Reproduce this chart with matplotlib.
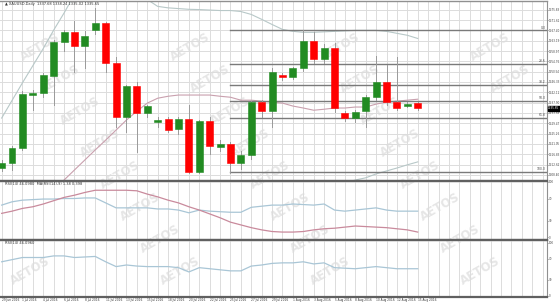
import matplotlib
matplotlib.use('Agg')
import matplotlib.pyplot as plt
from matplotlib.patches import Rectangle
import numpy as np

# ---------------- data ----------------
dates = ["29 Jun 2016", "30 Jun 2016", "1 Jul 2016", "3 Jul 2016", "4 Jul 2016", "5 Jul 2016",
         "6 Jul 2016", "7 Jul 2016", "8 Jul 2016", "10 Jul 2016", "11 Jul 2016", "12 Jul 2016",
         "13 Jul 2016", "14 Jul 2016", "15 Jul 2016", "17 Jul 2016", "18 Jul 2016", "19 Jul 2016",
         "20 Jul 2016", "21 Jul 2016", "22 Jul 2016", "24 Jul 2016", "25 Jul 2016", "26 Jul 2016",
         "27 Jul 2016", "28 Jul 2016", "29 Jul 2016", "31 Jul 2016", "1 Aug 2016", "2 Aug 2016",
         "3 Aug 2016", "4 Aug 2016", "5 Aug 2016", "7 Aug 2016", "8 Aug 2016", "9 Aug 2016",
         "10 Aug 2016", "11 Aug 2016", "12 Aug 2016", "14 Aug 2016", "15 Aug 2016"]

opens = [1311.2, 1313.3, 1319.4, 1340.95, 1341.8, 1348.7, 1362.5, 1366.6, 1360.9, 1367.4,
         1370.25, 1354.0, 1332.0, 1344.6, 1333.6, 1330.0, 1331.2, 1327.1, 1331.2, 1309.6,
         1330.4, 1319.8, 1321.0, 1313.3, 1316.5, 1338.1, 1334.4, 1349.1, 1348.3, 1351.9,
         1362.9, 1355.6, 1360.1, 1333.6, 1331.6, 1334.4, 1340.1, 1346.2, 1338.1, 1336.5, 1337.7]
closes = [1313.3, 1319.4, 1341.35, 1341.8, 1349.1, 1362.5, 1366.6, 1360.9, 1364.95, 1370.25,
          1354.0, 1332.0, 1344.6, 1333.6, 1336.5, 1330.8, 1326.7, 1331.2, 1309.6, 1330.4,
          1320.2, 1321.0, 1313.3, 1316.5, 1338.1, 1334.4, 1350.3, 1348.3, 1351.9, 1362.9,
          1355.6, 1360.1, 1335.65, 1331.6, 1334.0, 1340.1, 1346.2, 1338.1, 1335.65, 1337.3, 1335.65]
highs = [1314.5, 1320.0, 1342.5, 1343.0, 1350.0, 1363.5, 1367.5, 1371.1, 1367.0, 1376.35,
         1371.0, 1356.4, 1345.0, 1346.2, 1337.0, 1332.0, 1332.0, 1332.0, 1336.9, 1331.0,
         1332.0, 1322.5, 1322.0, 1318.0, 1338.5, 1339.0, 1351.9, 1350.0, 1352.5, 1367.4,
         1366.6, 1362.0, 1362.2, 1334.5, 1335.0, 1341.0, 1356.8, 1353.2, 1356.4, 1338.0, 1338.2]
lows = [1310.0, 1310.4, 1318.5, 1334.8, 1340.0, 1336.9, 1359.0, 1350.3, 1352.0, 1366.0,
        1350.3, 1327.9, 1325.9, 1317.7, 1332.0, 1328.0, 1325.9, 1325.0, 1309.0, 1309.2,
        1317.0, 1318.0, 1309.2, 1311.0, 1315.0, 1332.0, 1327.9, 1347.0, 1347.5, 1351.0,
        1354.0, 1354.0, 1334.0, 1330.5, 1330.0, 1327.9, 1339.0, 1337.0, 1335.0, 1336.0, 1335.0]

bb_upper = [1331.6, 1338.8, 1346.0, 1353.0, 1360.0, 1367.5, 1374.5, 1382.0, 1386.0, 1388.0,
            1389.0, 1388.0, 1386.0, 1383.0, 1380.0, 1377.2, 1376.6, 1376.3, 1376.0, 1375.9,
            1375.7, 1375.5, 1375.5, 1375.1, 1373.9, 1371.9, 1369.8, 1367.8, 1367.0, 1366.6,
            1366.6, 1366.8, 1367.0, 1367.2, 1367.4, 1367.4, 1367.4, 1367.0, 1366.2, 1365.4, 1364.1]
bb_middle = [1285.0, 1289.0, 1293.0, 1297.0, 1300.0, 1303.0, 1306.3, 1310.4, 1314.5, 1318.6,
             1322.6, 1326.7, 1330.8, 1334.4, 1337.7, 1339.7, 1340.5, 1341.0, 1341.0, 1341.0,
             1341.0, 1340.5, 1340.1, 1338.9, 1338.9, 1338.5, 1338.1, 1337.7, 1336.5, 1335.7,
             1334.8, 1335.2, 1335.7, 1335.7, 1336.1, 1336.1, 1337.3, 1338.1, 1338.5, 1338.9, 1339.3]
bb_lower = [1238.0, 1239.0, 1240.0, 1241.0, 1240.0, 1238.0, 1238.0, 1238.0, 1243.0, 1249.0,
            1256.0, 1265.0, 1275.0, 1285.0, 1295.0, 1302.0, 1304.0, 1305.0, 1305.3, 1305.4,
            1305.4, 1305.2, 1304.8, 1304.0, 1303.8, 1303.6, 1303.5, 1303.4, 1303.3, 1303.3,
            1303.4, 1303.6, 1304.0, 1305.0, 1306.3, 1307.2, 1308.8, 1310.0, 1311.2, 1312.5, 1313.7]

osc_main = [58, 64, 67, 68, 69, 69, 70, 70, 71, 71, 62, 53, 53, 53, 53, 51, 51, 49, 44, 49,
            47, 46, 45, 45, 54, 56, 58, 58, 60, 59, 58, 60, 49, 47, 49, 51, 53, 49, 47, 47, 47]
osc_signal = [43, 47, 52, 55, 60, 66, 72, 76, 81, 85, 85, 85, 85, 84, 78, 73, 67, 62, 55, 49,
              42, 35, 27, 22, 17, 13, 10, 9, 9, 10, 13, 15, 16, 18, 20, 19, 18, 17, 15, 13, 9]
rsi = [64, 68, 72, 72, 72, 75, 75, 72, 73, 74, 64, 55, 58, 56, 55, 55, 55, 53, 45, 53,
       51, 49, 47, 47, 56, 58, 61, 62, 62, 64, 60, 62, 53, 52, 51, 53, 55, 53, 51, 51, 51]

fib_prices = [1367.4, 1353.8, 1345.3, 1338.5, 1331.7, 1309.6]
fib_labels = ["0.0", "23.6", "38.2", "50.0", "61.8", "100.0"]
fib_start = 22  # candle index where the fibonacci lines begin

price_ticks = [1375.83, 1371.61, 1367.40, 1363.19, 1358.97, 1354.76, 1350.54, 1346.33,
               1342.12, 1337.90, 1333.69, 1329.47, 1325.26, 1321.05, 1316.83, 1312.62, 1308.40]
osc_ticks = [0, 30, 70, 100]
last_price = 1335.65
title_text = "▲ XAUUSD,Daily  1337.68 1338.24 1335.02 1335.65"
osc_title = "RSI(14) 46.0980  MA(RSI(14),9) 1.38 0.398"
rsi_title = "RSI(14) 46.0960"

# ---------------- layout ----------------
W, H = 560, 305
fig = plt.figure(figsize=(W / 100, H / 100), dpi=100)
fig.patch.set_facecolor('white')

def rect(top, bottom, right=547):
    return [0, 1 - bottom / H, right / W, (bottom - top) / H]

ax1 = fig.add_axes(rect(0.5, 181))
ax2 = fig.add_axes(rect(181, 239.5))
ax3 = fig.add_axes(rect(239.5, 297))

n = len(opens)
x = np.arange(n)
xlim = (-0.16, 52.43)
grid_c = '#dcdcdc'
small = 1.95

for ax in (ax1, ax2, ax3):
    ax.set_facecolor('none')
    ax.set_xlim(*xlim)
    ax.yaxis.tick_right()
    ax.tick_params(axis='y', labelsize=small, length=0.8, width=0.5, pad=0.3,
                   colors='#444444')
    ax.tick_params(axis='x', length=0)
    ax.spines['left'].set_visible(False)
    ax.spines['right'].set_color('#909090')
    ax.spines['right'].set_linewidth(0.8)
    ax.spines['top'].set_color('#606060')
    ax.spines['bottom'].set_color('#606060')
    ax.spines['top'].set_linewidth(1.6)
    ax.spines['bottom'].set_linewidth(1.6)
    for xi in range(0, 53):
        ax.axvline(xi, color=grid_c, lw=0.7, zorder=0.5)
ax1.spines['top'].set_linewidth(1.0)
ax1.spines['top'].set_color('#909090')

# ---------------- main panel ----------------
ax1.set_ylim(1305.9, 1379.6)
ax1.set_yticks(price_ticks)
ax1.set_yticklabels([f"{v:.2f}" for v in price_ticks])
for p in price_ticks:
    ax1.axhline(p, color=grid_c, lw=0.7, zorder=0.5)
ax1.set_xticks([])

ax1.plot(x, bb_upper, color='#b8c8c8', lw=0.8, zorder=2)
ax1.plot(x, bb_lower, color='#b8c8c8', lw=0.8, zorder=2)
ax1.plot(x, bb_middle, color='#c9a0ae', lw=0.8, zorder=2)

for fp, fl in zip(fib_prices, fib_labels):
    ax1.plot([fib_start, xlim[1]], [fp, fp], color='#7a7a7a', lw=1.0, zorder=2.5)
    ax1.text(xlim[1] - 0.15, fp + 0.3, fl, fontsize=2.2, color='#444444',
             ha='right', va='bottom', zorder=3)

bw = 0.66
for i in range(n):
    o, c, h, l = opens[i], closes[i], highs[i], lows[i]
    col = '#228b22' if c >= o else '#ff0000'
    ax1.plot([i, i], [l, h], color='#9a9a9a', lw=0.7, zorder=3)
    bottom = min(o, c)
    height = max(abs(c - o), 0.35)
    ax1.add_patch(Rectangle((i - bw / 2, bottom), bw, height, facecolor=col,
                            edgecolor=col, lw=0.4, zorder=4))

ax1.text(1.002, last_price, f"{last_price:.2f}", transform=ax1.get_yaxis_transform(),
         fontsize=small, color='white', ha='left', va='center', zorder=10,
         bbox=dict(boxstyle='square,pad=0.2', fc='black', ec='black'), clip_on=False)
ax1.text(0.3, 1378.2, title_text, fontsize=2.6, color='#333333', ha='left', va='center')

# ---------------- oscillator panel ----------------
ax2.set_ylim(-4.5, 101.8)
ax2.set_yticks(osc_ticks)
ax2.set_yticklabels([str(v) for v in osc_ticks])
ax2.set_xticks([])
ax2.plot(x, osc_main, color='#a9c6d6', lw=0.9, zorder=3)
ax2.plot(x, osc_signal, color='#c98a9c', lw=0.9, zorder=3)
ax2.text(0.3, 96.0, osc_title, fontsize=2.6, color='#333333', ha='left', va='center')

# ---------------- RSI panel ----------------
ax3.set_ylim(-1.9, 105.7)
ax3.set_yticks(osc_ticks)
ax3.set_yticklabels([str(v) for v in osc_ticks])
ax3.plot(x, rsi, color='#a9c6d6', lw=0.9, zorder=3)
ax3.text(0.3, 99.0, rsi_title, fontsize=2.6, color='#333333', ha='left', va='center')
lab_idx = list(range(0, n, 2))
ax3.set_xticks(lab_idx)
ax3.set_xticklabels([dates[i] for i in lab_idx], fontsize=2.1, color='#333333', ha='left')
ax3.tick_params(axis='x', pad=1)

# ---------------- watermark ----------------
for r in range(-6, 14):
    for k in range(-2, 6):
        px = 20 + 150 * k + 20 * r
        py = 15 + 32 * r
        if 28 < px < W - 45 and 18 < py < H - 18:
            fig.text(px / W, 1 - py / H, "AETOS", fontsize=8.5, fontweight='bold',
                     color='#e6e6e6', rotation=30, ha='center', va='center', zorder=-5)

fig.savefig('out.png', dpi=100, facecolor='white')
